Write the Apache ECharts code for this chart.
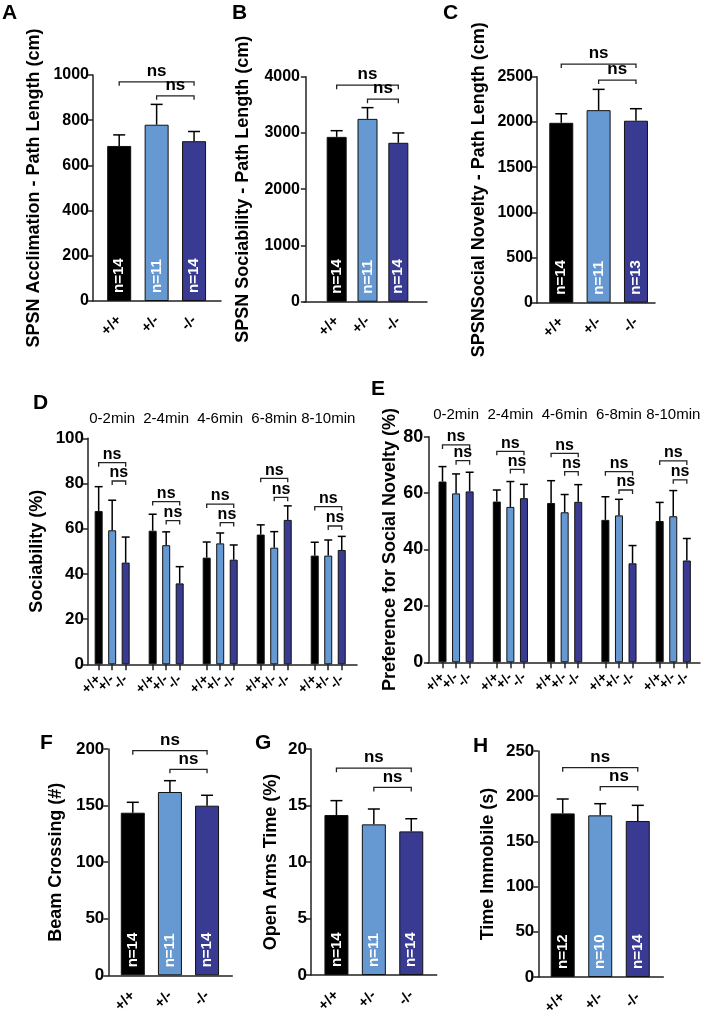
<!DOCTYPE html>
<html>
<head>
<meta charset="utf-8">
<script src="https://cdn.jsdelivr.net/npm/echarts@6/dist/echarts.min.js"></script>
<style>
html,body{margin:0;padding:0;background:#fff;}
#chart{width:709px;height:1012px;}
</style>
</head>
<body>
<div id="chart"></div>
<script>
// ---------------- DATA ----------------
const genotypes = ['+/+', '+/-', '-/-'];
const timeBins = ['0-2min', '2-4min', '4-6min', '6-8min', '8-10min'];

// A: SPSN Acclimation path length (cm)
const acclMean = [686, 780, 707];
const acclUpper = [735, 870, 750];
const acclN = ['n=14', 'n=11', 'n=14'];
const acclBracketY = [970, 908];

// B: SPSN Sociability path length (cm)
const socPathMean = [2930, 3250, 2825];
const socPathUpper = [3040, 3450, 3000];
const socPathN = ['n=14', 'n=11', 'n=14'];
const socPathBracketY = [3850, 3600];

// C: SPSN Social Novelty path length (cm)
const novPathMean = [1990, 2130, 2013];
const novPathUpper = [2090, 2360, 2146];
const novPathN = ['n=14', 'n=11', 'n=13'];
const novPathBracketY = [2640, 2463];

// D: Sociability (%) per time bin, per genotype
const sociabilityWT = [67.8, 59.1, 47.2, 57.4, 48.1];
const sociabilityHet = [59.3, 52.7, 53.5, 51.6, 48.1];
const sociabilityKO = [45.0, 35.8, 46.3, 63.9, 50.6];
const sociabilityWTUpper = [78.6, 66.4, 54.1, 61.7, 54.0];
const sociabilityHetUpper = [72.6, 58.6, 58.1, 58.7, 55.0];
const sociabilityKOUpper = [56.3, 43.2, 52.8, 70.1, 56.6];
const sociabilityBracketTop = [89.2, 72.0, 70.9, 82.3, 69.8];
const sociabilityBracketLow = [81.1, 63.6, 62.7, 73.9, 61.2];

// E: Preference for social novelty (%)
const noveltyWT = [64.1, 57.0, 56.5, 50.5, 50.1];
const noveltyHet = [59.9, 55.1, 53.2, 52.1, 51.8];
const noveltyKO = [60.6, 58.2, 56.9, 35.1, 36.1];
const noveltyWTUpper = [69.4, 61.1, 64.4, 58.7, 56.7];
const noveltyHetUpper = [66.8, 64.1, 59.5, 57.8, 60.9];
const noveltyKOUpper = [67.4, 63.1, 63.0, 41.4, 43.9];
const noveltyBracketTop = [77.1, 74.8, 74.1, 67.6, 71.4];
const noveltyBracketLow = [71.5, 68.4, 67.6, 61.1, 64.7];

// F: Beam crossing (#)
const beamMean = [143.7, 162.0, 149.9];
const beamUpper = [152.9, 172.0, 159.1];
const beamN = ['n=14', 'n=11', 'n=14'];
const beamBracketY = [198.5, 182];

// G: Open arms time (%)
const openArmsMean = [14.16, 13.33, 12.71];
const openArmsUpper = [15.43, 14.69, 13.83];
const openArmsN = ['n=14', 'n=11', 'n=14'];
const openArmsBracketY = [18.3, 16.6];

// H: Time immobile (s)
const immobileMean = [181.0, 178.8, 172.6];
const immobileUpper = [196.9, 191.7, 189.9];
const immobileN = ['n=12', 'n=10', 'n=14'];
const immobileBracketY = [231.6, 210.5];

const sigLabels = ['ns', 'ns'];

// ---------------- STYLE / BUILD ----------------
const FONT = '"Liberation Sans", Arial, Helvetica, sans-serif';
const COLORS = ['#000000', '#6699d1', '#383b91'];

const option = {
  animation: false,
  backgroundColor: '#ffffff',
  title: [],
  grid: [],
  xAxis: [],
  yAxis: [],
  series: []
};

function errRender(cap) {
  return function (params, api) {
    const x = api.value(0);
    const p0 = api.coord([x, api.value(1)]);
    const p1 = api.coord([x, api.value(2)]);
    return {
      type: 'group',
      children: [
        { type: 'line', shape: { x1: p0[0], y1: p0[1], x2: p1[0], y2: p1[1] }, style: { stroke: '#000', lineWidth: 1.5 } },
        { type: 'line', shape: { x1: p1[0] - cap, y1: p1[1], x2: p1[0] + cap, y2: p1[1] }, style: { stroke: '#000', lineWidth: 1.5 } }
      ]
    };
  };
}

function bracketRender(texts, tick, textGap, fontSize) {
  return function (params, api) {
    const a = api.coord([api.value(0), api.value(2)]);
    const b = api.coord([api.value(1), api.value(2)]);
    const y = a[1];
    return {
      type: 'group',
      children: [
        { type: 'polyline', shape: { points: [[a[0], y + tick], [a[0], y], [b[0], y], [b[0], y + tick]] },
          style: { stroke: '#222', lineWidth: 1.3, fill: 'none' } },
        { type: 'text', x: (a[0] + b[0]) / 2, y: y - textGap,
          style: { text: texts[params.dataIndex % texts.length], fill: '#000', font: 'bold ' + fontSize + 'px ' + FONT, align: 'center', verticalAlign: 'bottom' } }
      ]
    };
  };
}

function labelAxis(gi, p, values, textFor) {
  return {
    type: 'value', gridIndex: gi, position: 'bottom', min: p.xmin, max: p.xmax,
    splitLine: { show: false }, axisLine: { show: false }, axisTick: { show: false },
    axisLabel: {
      customValues: values, rotate: 45, margin: p.xLabelMargin, fontSize: p.xLabelSize, fontWeight: 'bold',
      color: '#000', fontFamily: FONT, hideOverlap: false, showMinLabel: true, showMaxLabel: true,
      formatter: textFor
    }
  };
}

function addPanel(p) {
  const gi = option.grid.length;
  option.grid.push({
    left: p.left, top: p.top, width: p.right - p.left, height: p.bottom - p.top,
    containLabel: false, outerBoundsMode: 'none'
  });
  const xi = option.xAxis.length;
  const findIdx = v => p.xs.findIndex(x => Math.abs(x - v) < 1e-6);
  option.xAxis.push({
    type: 'value', gridIndex: gi, position: 'bottom', min: p.xmin, max: p.xmax,
    splitLine: { show: false },
    axisLine: { show: true, onZero: false, lineStyle: { color: '#222', width: 1.5 } },
    axisTick: { show: !!p.xTicks, customValues: p.xs, length: 6, lineStyle: { color: '#222', width: 1.5 } },
    axisLabel: p.splitLabels ? { show: false } : {
      customValues: p.xs, rotate: 45, margin: p.xLabelMargin, fontSize: p.xLabelSize, fontWeight: 'bold',
      color: '#000', fontFamily: FONT, hideOverlap: false, showMinLabel: true, showMaxLabel: true,
      formatter: v => { const i = findIdx(v); return i >= 0 ? p.xLabels[i] : ''; }
    }
  });
  if (p.splitLabels) {
    // one label row per genotype so that the overlapping rotated labels are all kept
    for (let k = 0; k < 3; k++) {
      const vals = p.xs.filter((x, i) => i % 3 === k);
      option.xAxis.push(labelAxis(gi, p, vals, () => p.xLabels[k]));
    }
  }
  if (p.groupLabels) {
    const findG = v => p.groupXs.findIndex(x => Math.abs(x - v) < 1e-6);
    option.xAxis.push({
      type: 'value', gridIndex: gi, position: 'top', min: p.xmin, max: p.xmax,
      splitLine: { show: false }, axisLine: { show: false }, axisTick: { show: false },
      axisLabel: {
        customValues: p.groupXs, margin: p.groupMargin, fontSize: 15, color: '#000', fontFamily: FONT,
        hideOverlap: false, showMinLabel: true, showMaxLabel: true,
        formatter: v => { const i = findG(v); return i >= 0 ? p.groupLabels[i] : ''; }
      }
    });
  }
  const yi = option.yAxis.length;
  option.yAxis.push({
    type: 'value', gridIndex: gi, min: 0, max: p.ymax, interval: p.yInterval,
    splitLine: { show: false },
    axisLine: { show: true, lineStyle: { color: '#222', width: 1.5 } },
    axisTick: { show: true, length: 5, lineStyle: { color: '#222', width: 1.5 } },
    axisLabel: { margin: 4, fontSize: p.yLabelSize, fontWeight: 'bold', color: '#000', fontFamily: FONT,
      formatter: v => String(v) },
    name: p.yTitle, nameLocation: 'middle', nameGap: p.nameGap,
    nameTextStyle: { fontSize: 18, fontWeight: 'bold', color: '#000', fontFamily: FONT }
  });
  option.series.push({
    type: 'bar', xAxisIndex: xi, yAxisIndex: yi, barWidth: p.barWidth, z: 2,
    itemStyle: { borderColor: '#111', borderWidth: 1 },
    data: p.xs.map((x, i) => ({ value: [x, p.means[i]], itemStyle: { color: COLORS[i % 3] } })),
    label: p.nLabels ? {
      show: true, position: 'insideBottom', rotate: 90, align: 'left', verticalAlign: 'middle', distance: 8,
      color: '#fff', fontSize: 15, fontWeight: 'bold', fontFamily: FONT,
      formatter: params => p.nLabels[params.dataIndex]
    } : { show: false }
  });
  option.series.push({
    type: 'custom', xAxisIndex: xi, yAxisIndex: yi, z: 4, clip: false,
    encode: { x: 0, y: [1, 2] },
    data: p.xs.map((x, i) => [x, p.means[i], p.uppers[i]]),
    renderItem: errRender(p.cap)
  });
  option.series.push({
    type: 'custom', xAxisIndex: xi, yAxisIndex: yi, z: 4, clip: false,
    encode: { x: [0, 1], y: 2 },
    data: p.brackets,
    renderItem: bracketRender(p.bracketTexts, p.bracketTick, p.textGap, p.nsSize)
  });
}

function tripleBrackets(yLevels) {
  return [[1, 3, yLevels[0]], [2, 3, yLevels[1]]];
}

// A
addPanel({
  left: 93, top: 75, right: 221, bottom: 301, xmin: 0.3, xmax: 3.72,
  xs: [1, 2, 3], xLabels: genotypes, xLabelMargin: 17, xLabelSize: 15,
  means: acclMean, uppers: acclUpper, nLabels: acclN, barWidth: 24, cap: 6,
  ymax: 1000, yInterval: 200, yLabelSize: 16,
  yTitle: 'SPSN Acclimation - Path Length (cm)', nameGap: 50,
  brackets: tripleBrackets(acclBracketY), bracketTexts: sigLabels, bracketTick: 4, textGap: 2, nsSize: 17
});
// B
addPanel({
  left: 304, top: 76.7, right: 427, bottom: 301.7, xmin: -0.06, xmax: 3.93,
  xs: [1, 2, 3], xLabels: genotypes, xLabelMargin: 17, xLabelSize: 15,
  means: socPathMean, uppers: socPathUpper, nLabels: socPathN, barWidth: 20, cap: 6,
  ymax: 4000, yInterval: 1000, yLabelSize: 16,
  yTitle: 'SPSN Sociability - Path Length (cm)', nameGap: 52,
  brackets: tripleBrackets(socPathBracketY), bracketTexts: sigLabels, bracketTick: 4, textGap: 2, nsSize: 17
});
// C
addPanel({
  left: 537, top: 76.7, right: 655, bottom: 302.7, xmin: 0.35, xmax: 3.51,
  xs: [1, 2, 3], xLabels: genotypes, xLabelMargin: 17, xLabelSize: 15,
  means: novPathMean, uppers: novPathUpper, nLabels: novPathN, barWidth: 24, cap: 6,
  ymax: 2500, yInterval: 500, yLabelSize: 16,
  yTitle: 'SPSNSocial Novelty - Path Length (cm)', nameGap: 49,
  brackets: tripleBrackets(novPathBracketY), bracketTexts: sigLabels, bracketTick: 4, textGap: 2, nsSize: 17
});

function timePanelData(wt, het, ko, wtU, hetU, koU, topY, lowY) {
  const xs = [], means = [], uppers = [], labels = [], brackets = [];
  for (let g = 0; g < wt.length; g++) {
    const base = 4 * g;
    xs.push(base + 1, base + 2, base + 3);
    means.push(wt[g], het[g], ko[g]);
    uppers.push(wtU[g], hetU[g], koU[g]);
    labels.push(...genotypes);
    brackets.push([base + 1, base + 3, topY[g]], [base + 2, base + 3, lowY[g]]);
  }
  return { xs, means, uppers, labels, brackets };
}

// D
const dD = timePanelData(sociabilityWT, sociabilityHet, sociabilityKO,
  sociabilityWTUpper, sociabilityHetUpper, sociabilityKOUpper, sociabilityBracketTop, sociabilityBracketLow);
addPanel({
  left: 88, top: 438.3, right: 357, bottom: 664.3, xmin: 0.21, xmax: 20.13,
  xs: dD.xs, xLabels: genotypes, splitLabels: true, xLabelMargin: 13, xLabelSize: 14, xTicks: true,
  groupXs: [2, 6, 10, 14, 18], groupLabels: timeBins, groupMargin: 12,
  means: dD.means, uppers: dD.uppers, nLabels: null, barWidth: 8, cap: 4,
  ymax: 100, yInterval: 20, yLabelSize: 17,
  yTitle: 'Sociability (%)', nameGap: 42,
  brackets: dD.brackets, bracketTexts: ['ns'], bracketTick: 4, textGap: 0, nsSize: 16
});
// E
const dE = timePanelData(noveltyWT, noveltyHet, noveltyKO,
  noveltyWTUpper, noveltyHetUpper, noveltyKOUpper, noveltyBracketTop, noveltyBracketLow);
addPanel({
  left: 427.3, top: 436.7, right: 700, bottom: 662.3, xmin: -0.12, xmax: 19.97,
  xs: dE.xs, xLabels: genotypes, splitLabels: true, xLabelMargin: 13, xLabelSize: 14, xTicks: true,
  groupXs: [2, 6, 10, 14, 18], groupLabels: timeBins, groupMargin: 14,
  means: dE.means, uppers: dE.uppers, nLabels: null, barWidth: 8, cap: 4,
  ymax: 80, yInterval: 20, yLabelSize: 18,
  yTitle: 'Preference for Social Novelty (%)', nameGap: 26,
  brackets: dE.brackets, bracketTexts: ['ns'], bracketTick: 4, textGap: 0, nsSize: 16
});
// F
addPanel({
  left: 108.3, top: 749, right: 232.3, bottom: 975.3, xmin: 0.34, xmax: 3.68,
  xs: [1, 2, 3], xLabels: genotypes, xLabelMargin: 18, xLabelSize: 15,
  means: beamMean, uppers: beamUpper, nLabels: beamN, barWidth: 24, cap: 6,
  ymax: 200, yInterval: 50, yLabelSize: 17,
  yTitle: 'Beam Crossing (#)', nameGap: 43,
  brackets: tripleBrackets(beamBracketY), bracketTexts: sigLabels, bracketTick: 4, textGap: 2, nsSize: 17
});
// G
addPanel({
  left: 311, top: 749, right: 436.7, bottom: 975, xmin: 0.32, xmax: 3.68,
  xs: [1, 2, 3], xLabels: genotypes, xLabelMargin: 18, xLabelSize: 15,
  means: openArmsMean, uppers: openArmsUpper, nLabels: openArmsN, barWidth: 24, cap: 6,
  ymax: 20, yInterval: 5, yLabelSize: 17,
  yTitle: 'Open Arms Time (%)', nameGap: 31,
  brackets: tripleBrackets(openArmsBracketY), bracketTexts: sigLabels, bracketTick: 4, textGap: 2, nsSize: 17
});
// H
addPanel({
  left: 538.3, top: 751, right: 663.3, bottom: 977, xmin: 0.35, xmax: 3.68,
  xs: [1, 2, 3], xLabels: genotypes, xLabelMargin: 18, xLabelSize: 15,
  means: immobileMean, uppers: immobileUpper, nLabels: immobileN, barWidth: 24, cap: 6,
  ymax: 250, yInterval: 50, yLabelSize: 17,
  yTitle: 'Time Immobile (s)', nameGap: 41,
  brackets: tripleBrackets(immobileBracketY), bracketTexts: sigLabels, bracketTick: 4, textGap: 2, nsSize: 17
});

// Panel letters
const letters = [['A', 2, 3], ['B', 232, 3], ['C', 443, 3], ['D', 33, 393], ['E', 371, 379], ['F', 40, 733], ['G', 255, 733], ['H', 473, 736]];
letters.forEach(([t, l, tp]) => option.title.push({
  text: t, left: l, top: tp, padding: 0,
  textStyle: { fontSize: 21, fontWeight: 'bold', color: '#000', fontFamily: FONT }
}));

const chart = echarts.init(document.getElementById('chart'), null, { renderer: 'canvas' });
chart.setOption(option);
</script>
</body>
</html>
